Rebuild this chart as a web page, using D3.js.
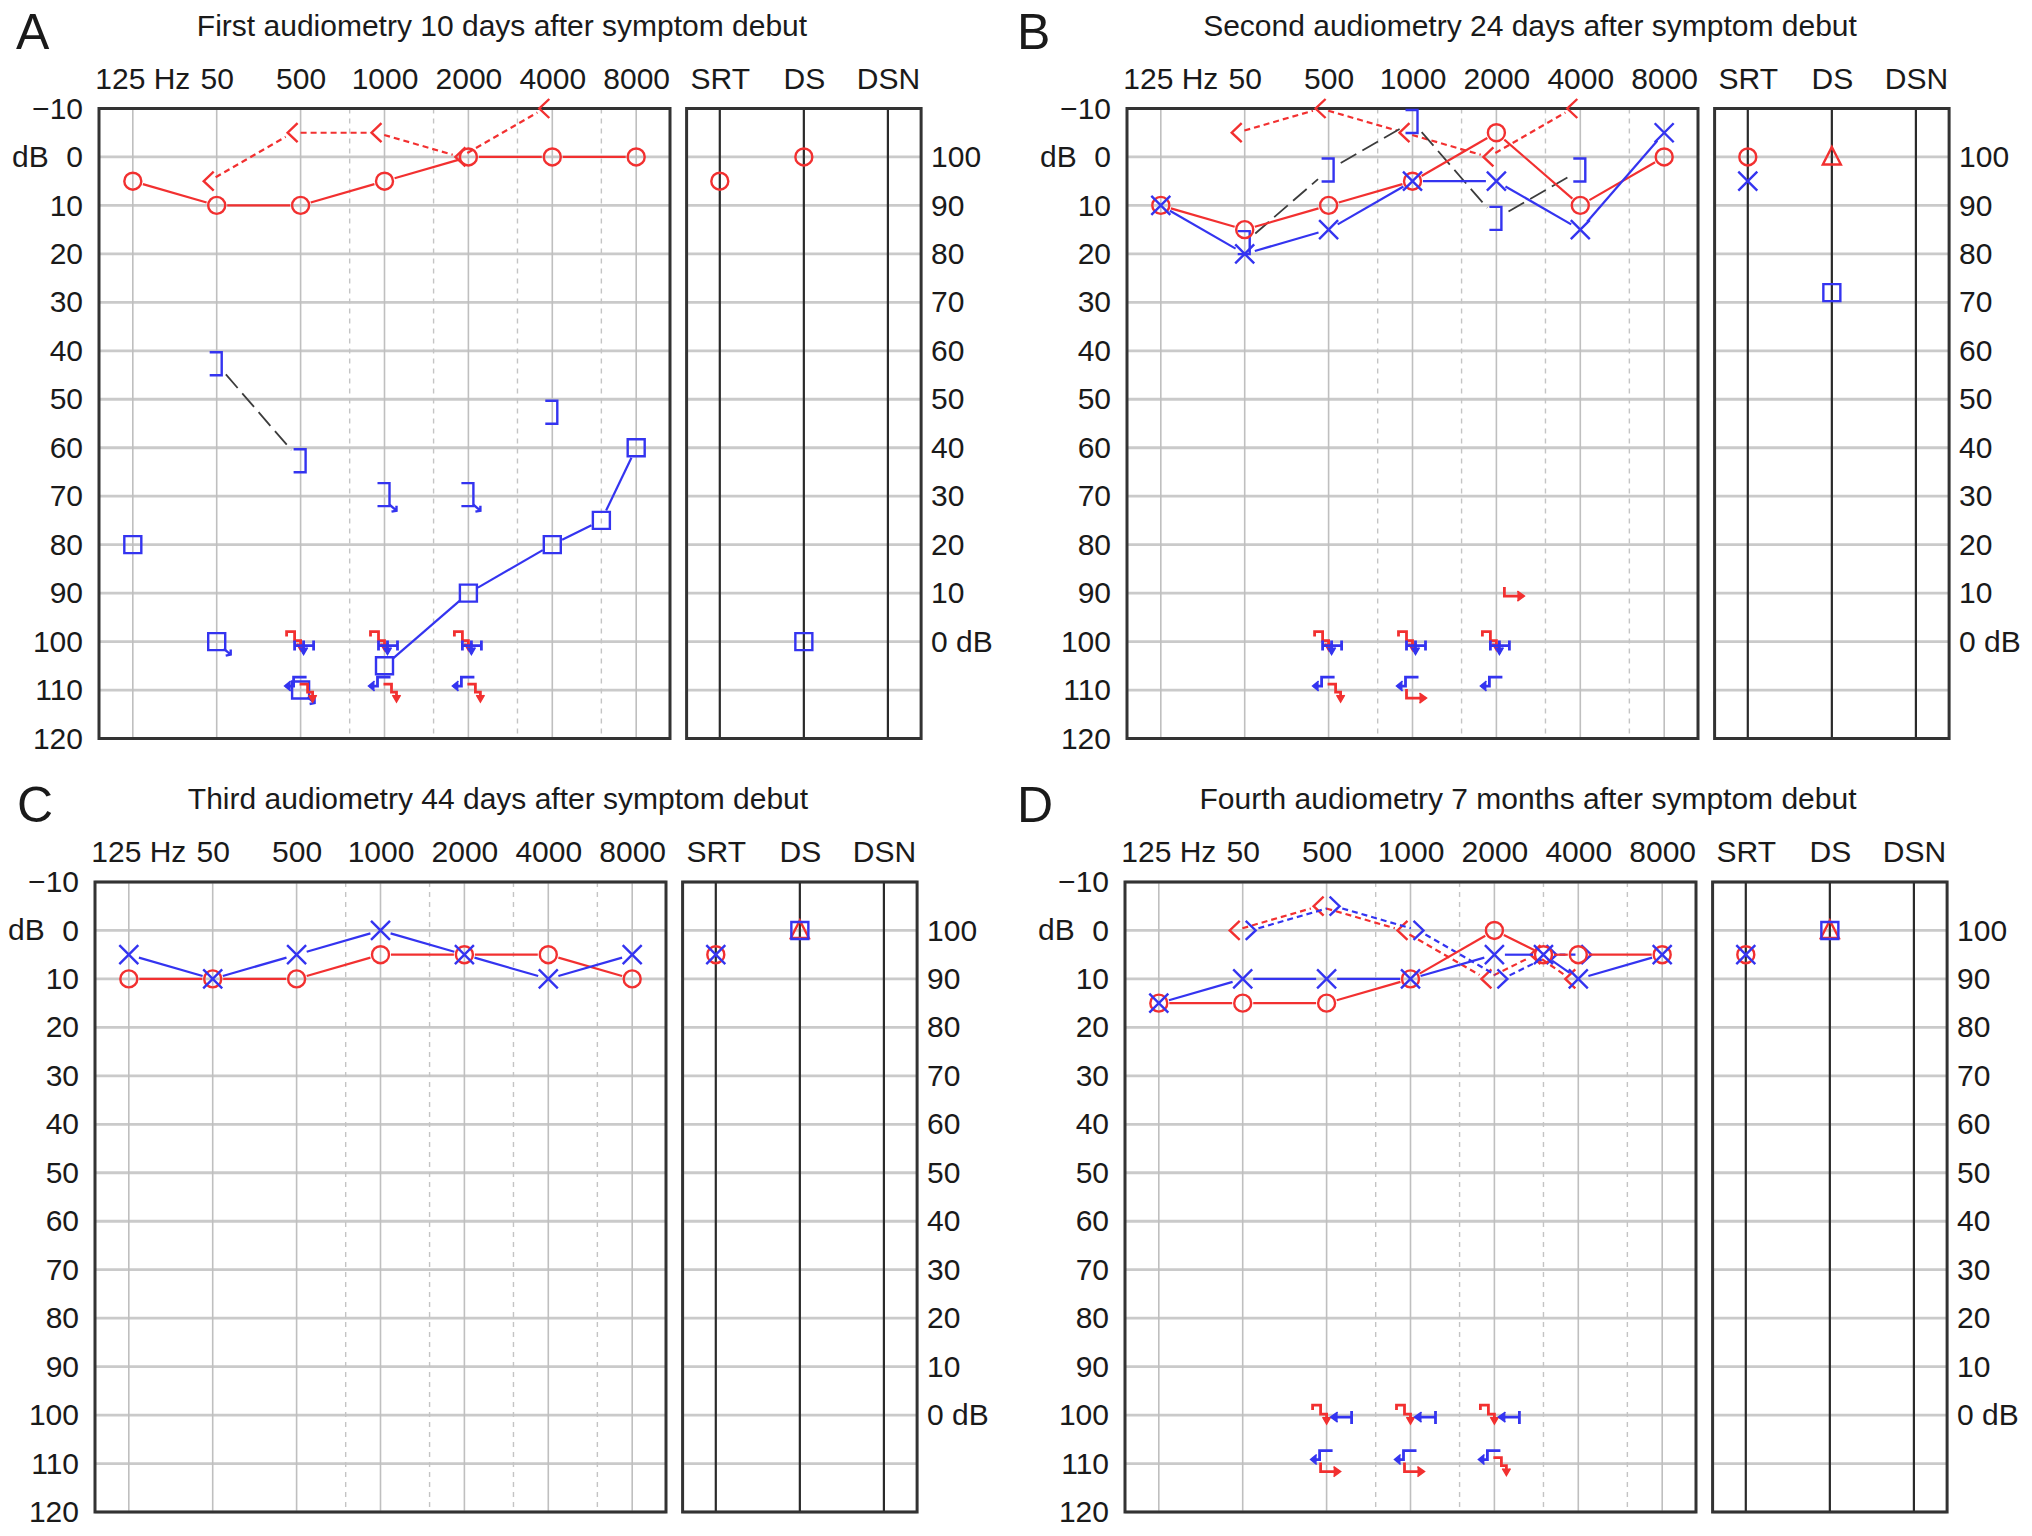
<!DOCTYPE html>
<html>
<head>
<meta charset="utf-8">
<script src="https://cdn.jsdelivr.net/npm/d3@7"></script>
<style>
  body { margin: 0; background: #fff; }
  text { font-family: "Liberation Sans", Arial, sans-serif; fill: #1a1a1a; }
</style>
</head>
<body>
<div id="chart"></div>
<script>
// shared axes
const freqs = [125, 250, 500, 1000, 2000, 4000, 8000]
const freqLabels = ["125 Hz", "50", "500", "1000", "2000", "4000", "8000"]
const midFreqs = [750, 1500, 3000, 6000]
const dbTicks = [-10, 0, 10, 20, 30, 40, 50, 60, 70, 80, 90, 100, 110, 120]
const dbLabels = ["−10", "0", "10", "20", "30", "40", "50", "60", "70", "80", "90", "100", "110", "120"]
const pctTicks = [0, 10, 20, 30, 40, 50, 60, 70, 80, 90, 100]
const pctLabels = ["100", "90", "80", "70", "60", "50", "40", "30", "20", "10", "0 dB"]
const speechCols = ["SRT", "DS", "DSN"]

// A - first audiometry  ([freq, dB, noResponse])
const aRightAir = [[125, 5], [250, 10], [500, 10], [1000, 5], [2000, 0], [4000, 0], [8000, 0]]
const aRightBone = [[250, 5], [500, -5], [1000, -5], [2000, 0], [4000, -10]]
const aLeftMaskedAir = [[125, 80], [250, 100, 1], [500, 110, 1], [1000, 105], [2000, 90], [4000, 80], [6000, 75], [8000, 60]]
const aLeftMaskedBone = [[250, 40], [500, 60], [1000, 67, 1], [2000, 67, 1], [4000, 50]]
const aSpeechRight = [["SRT", 5, "O"], ["DS", 0, "O"]]
const aSpeechLeft = [["DS", 100, "S"]]
const aNoResponse = [
  [500, 100, "rStep"], [500, 100, "bDown"], [500, 110, "bHook"], [500, 110, "rStepLow"],
  [1000, 100, "rStep"], [1000, 100, "bDown"], [1000, 110, "bHook"], [1000, 110, "rStepLow"],
  [2000, 100, "rStep"], [2000, 100, "bDown"], [2000, 110, "bHook"], [2000, 110, "rStepLow"]]

// B - second audiometry
const bRightAir = [[125, 10], [250, 15], [500, 10], [1000, 5], [2000, -5], [4000, 10], [8000, 0]]
const bLeftAir = [[125, 10], [250, 20], [500, 15], [1000, 5], [2000, 5], [4000, 15], [8000, -5]]
const bRightBone = [[250, -5], [500, -10], [1000, -5], [2000, 0], [4000, -10]]
const bLeftMaskedBone = [[250, 15], [500, 0], [1000, -10], [2000, 10], [4000, 0]]
const bSpeechRight = [["SRT", 0, "O"], ["DS", 0, "T"]]
const bSpeechLeft = [["SRT", 5, "X"], ["DS", 28, "S"]]
const bNoResponse = [
  [500, 100, "rStep"], [500, 100, "bDown"], [500, 110, "bHook"], [500, 110, "rStepLow"],
  [1000, 100, "rStep"], [1000, 100, "bDown"], [1000, 110, "bHook"], [1000, 110, "rHook"],
  [2000, 100, "rStep"], [2000, 100, "bDown"], [2000, 110, "bHook"], [2000, 90, "rArrow"]]

// C - third audiometry
const cRightAir = [[125, 10], [250, 10], [500, 10], [1000, 5], [2000, 5], [4000, 5], [8000, 10]]
const cLeftAir = [[125, 5], [250, 10], [500, 5], [1000, 0], [2000, 5], [4000, 10], [8000, 5]]
const cSpeechRight = [["SRT", 5, "O"], ["DS", 0, "T"]]
const cSpeechLeft = [["SRT", 5, "X"], ["DS", 0, "S"]]

// D - fourth audiometry
const dRightAir = [[125, 15], [250, 15], [500, 15], [1000, 10], [2000, 0], [3000, 5], [4000, 5], [8000, 5]]
const dLeftAir = [[125, 15], [250, 10], [500, 10], [1000, 10], [2000, 5], [3000, 5], [4000, 10], [8000, 5]]
const dRightBone = [[250, 0], [500, -5], [1000, 0], [2000, 10], [3000, 5], [4000, 10]]
const dLeftBone = [[250, 0], [500, -5], [1000, 0], [2000, 10], [3000, 5], [4000, 5]]
const dSpeechRight = [["SRT", 5, "O"], ["DS", 0, "T"]]
const dSpeechLeft = [["SRT", 5, "X"], ["DS", 0, "S"]]
const dNoResponse = [
  [500, 100, "rStep"], [500, 100, "bLeft"], [500, 110, "bHook"], [500, 110, "rHook"],
  [1000, 100, "rStep"], [1000, 100, "bLeft"], [1000, 110, "bHook"], [1000, 110, "rHook"],
  [2000, 100, "rStep"], [2000, 100, "bLeft"], [2000, 110, "bHook"], [2000, 110, "rStepLow"]]

const red = "#f23030", blue = "#3434f0", dark = "#333"
const W = 2032, H = 1536
const mainW = 571, plotH = 630, subGap = 16.6, subW = 234.5, pad = 0.403

const svg = d3.select("#chart").append("svg")
  .attr("width", W).attr("height", H)
  .style("background", "#fff")

// marker shapes centred on 0,0
const shapes = {
  X: "M-9.5,-9.5L9.5,9.5M-9.5,9.5L9.5,-9.5",
  S: "M-8.5,-8.5H8.5V8.5H-8.5Z",
  T: "M0,-10L9,7.5H-9Z",
  "<": "M5,-9.5L-5,0L5,9.5",
  ">": "M-5,-9.5L5,0L-5,9.5",
  "]": "M-7,-11.5H5V11.5H-7"
}
const shift = { "<": [-8, 0], ">": [8, 0], "]": [0, 13] }
const gap = { O: 10.5, X: 10.5, S: 11, T: 11, "<": 8, ">": 8, "]": 14 }

// tiny no-response glyphs (path, arrowhead)
const glyphs = {
  rStep: ["M-14,-5V-10H-6V-1H0V6", "M-4,2L0,9L4,2"],
  rStepLow: ["M-1,-6H7V2H12V9", "M8,5L12,12L16,5"],
  bDown: ["M-6,4H13M-6,-1V9M13,-1V9M3,-1V12", "M-1,6L3,13L7,6"],
  bLeft: ["M25,-4V9M25,2H5", "M11,-3L4,2L11,7"],
  bHook: ["M6,-13H-7V-4H-15", "M-10,-9L-16,-4L-10,1"],
  rHook: ["M-6,-1V8H13", "M7,3L14,8L7,13"],
  rArrow: ["M8,-6V3H27", "M21,-2L28,3L21,8"]
}

function drawMark(g, type, color, cx, cy) {
  if (type === "O") {
    g.append("circle").attr("cx", cx).attr("cy", cy).attr("r", 8.5)
      .attr("fill", "none").attr("stroke", color).attr("stroke-width", 2.4)
  } else {
    g.append("path").attr("d", shapes[type])
      .attr("transform", `translate(${cx},${cy})`)
      .attr("fill", "none").attr("stroke", color).attr("stroke-width", 2.4)
  }
}

function drawSeries(g, x, y, s) {
  const off = shift[s.sym] || [0, 0]
  const pts = s.data.map(d => ({ px: x(d[0]) + off[0], py: y(d[1]) + off[1], nr: !!d[2] }))
  const gp = gap[s.sym]
  if (s.line) {
    for (let i = 0; i < pts.length - 1; i++) {
      const a = pts[i], b = pts[i + 1]
      if (a.nr || b.nr) continue
      const dx = b.px - a.px, dy = b.py - a.py, len = Math.hypot(dx, dy)
      if (len < 2 * gp) continue
      const ux = dx / len, uy = dy / len
      g.append("line")
        .attr("x1", a.px + ux * gp).attr("y1", a.py + uy * gp)
        .attr("x2", b.px - ux * gp).attr("y2", b.py - uy * gp)
        .attr("stroke", s.lineColor || s.color)
        .attr("stroke-width", s.width || 2.2)
        .attr("stroke-dasharray", s.dash || null)
    }
  }
  pts.forEach(p => {
    drawMark(g, s.sym, s.color, p.px, p.py)
    if (p.nr) {
      const ax = p.px + (s.sym === "]" ? 5 : 7), ay = p.py + (s.sym === "]" ? 10 : 7)
      g.append("path").attr("d", `M${ax},${ay}L${ax + 7},${ay + 6}M${ax + 2},${ay + 7}L${ax + 7},${ay + 6}L${ax + 7},${ay + 1}`)
        .attr("fill", "none").attr("stroke", s.color).attr("stroke-width", 2.4)
    }
  })
}

function drawPanel(p) {
  const g = svg.append("g").attr("transform", `translate(${p.x},${p.y})`)
  const x = d3.scaleLog().base(2)
    .domain([125 / 2 ** pad, 8000 * 2 ** pad])
    .range([0, mainW])
  const y = d3.scaleLinear().domain([-10, 120]).range([0, plotH])
  const sx = d3.scalePoint().domain(speechCols).range([33.2, subW - 33.2])

  // main grid
  const grid = g.append("g")
  grid.selectAll(".hg").data(dbTicks).join("line")
    .attr("x1", 0).attr("x2", mainW).attr("y1", d => y(d)).attr("y2", d => y(d))
    .attr("stroke", "#cacaca").attr("stroke-width", 2.8)
  grid.selectAll(".vg").data(freqs).join("line")
    .attr("x1", d => x(d)).attr("x2", d => x(d)).attr("y1", 0).attr("y2", plotH)
    .attr("stroke", "#bfbfbf").attr("stroke-width", 1.6)
  grid.selectAll(".vd").data(midFreqs).join("line")
    .attr("x1", d => x(d)).attr("x2", d => x(d)).attr("y1", 0).attr("y2", plotH)
    .attr("stroke", "#c4c4c4").attr("stroke-width", 1.4).attr("stroke-dasharray", "5,5")

  // speech box
  const sub = g.append("g").attr("transform", `translate(${mainW + subGap},0)`)
  sub.selectAll(".hg").data(dbTicks).join("line")
    .attr("x1", 0).attr("x2", subW).attr("y1", d => y(d)).attr("y2", d => y(d))
    .attr("stroke", "#cacaca").attr("stroke-width", 2.8)
  sub.selectAll(".vc").data(speechCols).join("line")
    .attr("x1", d => sx(d)).attr("x2", d => sx(d)).attr("y1", 0).attr("y2", plotH)
    .attr("stroke", "#2a2a2a").attr("stroke-width", 2.2)

  // frames
  g.append("rect").attr("width", mainW).attr("height", plotH)
    .attr("fill", "none").attr("stroke", dark).attr("stroke-width", 3)
  sub.append("rect").attr("width", subW).attr("height", plotH)
    .attr("fill", "none").attr("stroke", dark).attr("stroke-width", 3)

  // axes
  const styleAxis = a => {
    a.select(".domain").remove()
    a.attr("font-size", 30).attr("font-family", "Liberation Sans, Arial, sans-serif")
    a.selectAll("text").attr("fill", "#1a1a1a")
  }
  g.append("g")
    .call(d3.axisLeft(y).tickValues(dbTicks).tickFormat((d, i) => dbLabels[i]).tickSize(0).tickPadding(16))
    .call(styleAxis)
  g.append("text").attr("x", -87).attr("y", y(0)).attr("dy", "0.32em")
    .attr("font-size", 30).text("dB")

  const top = g.append("g")
    .call(d3.axisTop(x).tickValues(freqs).tickFormat((d, i) => freqLabels[i]).tickSize(0).tickPadding(20))
    .call(styleAxis)
  top.selectAll("text").filter((d, i) => i === 0).attr("text-anchor", "start").attr("x", -38)

  sub.append("g")
    .call(d3.axisTop(sx).tickSize(0).tickPadding(20))
    .call(styleAxis)
  sub.append("g").attr("transform", `translate(${subW},0)`)
    .call(d3.axisRight(y).tickValues(pctTicks).tickFormat((d, i) => pctLabels[i]).tickSize(0).tickPadding(10))
    .call(styleAxis)

  // title and panel letter
  g.append("text").attr("x", 403).attr("y", -73).attr("text-anchor", "middle")
    .attr("font-size", 30).text(p.title)
  g.append("text").attr("x", p.letterX).attr("y", -60)
    .attr("font-size", 50).text(p.letter)

  // data
  const marks = g.append("g")
  p.series.forEach(s => drawSeries(marks, x, y, s))

  const sMarks = sub.append("g")
  p.speech.forEach(s => s.data.forEach(d => drawMark(sMarks, d[2], s.color, sx(d[0]), y(d[1]))))

  ;(p.noResp || []).forEach(d => {
    const gl = glyphs[d[2]], col = d[2][0] === "r" ? red : blue
    const t = `translate(${x(d[0])},${y(d[1])})`
    marks.append("path").attr("d", gl[0]).attr("transform", t)
      .attr("fill", "none").attr("stroke", col).attr("stroke-width", 2.8)
    marks.append("path").attr("d", gl[1]).attr("transform", t)
      .attr("fill", col).attr("stroke", col).attr("stroke-width", 1.5)
  })
}

const solid = { line: true }
const bone = { line: true, dash: "6,4" }
const mbone = { line: true, lineColor: "#3c3c3c", dash: "18,7", width: 1.8 }

drawPanel({
  x: 99, y: 108.5, letter: "A", letterX: -83, title: "First audiometry 10 days after symptom debut",
  series: [
    { data: aRightBone, sym: "<", color: red, ...bone },
    { data: aLeftMaskedBone, sym: "]", color: blue, ...mbone },
    { data: aRightAir, sym: "O", color: red, ...solid },
    { data: aLeftMaskedAir, sym: "S", color: blue, ...solid }
  ],
  speech: [{ data: aSpeechRight, color: red }, { data: aSpeechLeft, color: blue }],
  noResp: aNoResponse
})

drawPanel({
  x: 1127, y: 108.5, letter: "B", letterX: -110, title: "Second audiometry 24 days after symptom debut",
  series: [
    { data: bRightBone, sym: "<", color: red, ...bone },
    { data: bLeftMaskedBone, sym: "]", color: blue, ...mbone },
    { data: bRightAir, sym: "O", color: red, ...solid },
    { data: bLeftAir, sym: "X", color: blue, ...solid }
  ],
  speech: [{ data: bSpeechRight, color: red }, { data: bSpeechLeft, color: blue }],
  noResp: bNoResponse
})

drawPanel({
  x: 95, y: 882, letter: "C", letterX: -78, title: "Third audiometry 44 days after symptom debut",
  series: [
    { data: cRightAir, sym: "O", color: red, ...solid },
    { data: cLeftAir, sym: "X", color: blue, ...solid }
  ],
  speech: [{ data: cSpeechRight, color: red }, { data: cSpeechLeft, color: blue }]
})

drawPanel({
  x: 1125, y: 882, letter: "D", letterX: -108, title: "Fourth audiometry 7 months after symptom debut",
  series: [
    { data: dRightBone, sym: "<", color: red, ...bone },
    { data: dLeftBone, sym: ">", color: blue, ...bone },
    { data: dRightAir, sym: "O", color: red, ...solid },
    { data: dLeftAir, sym: "X", color: blue, ...solid }
  ],
  speech: [{ data: dSpeechRight, color: red }, { data: dSpeechLeft, color: blue }],
  noResp: dNoResponse
})
</script>
</body>
</html>
